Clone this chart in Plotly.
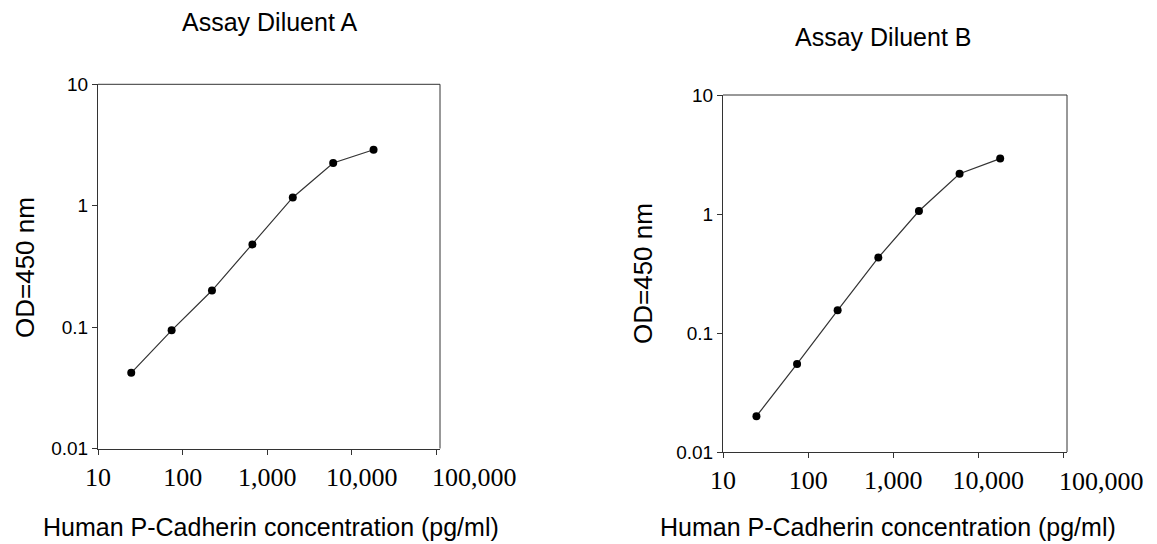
import math
import plotly.graph_objects as go

# Data
conc = [24.7, 74.1, 222, 667, 2000, 6000, 18000]
od_a = [0.042, 0.094, 0.20, 0.48, 1.17, 2.25, 2.89]
od_b = [0.020, 0.055, 0.155, 0.43, 1.06, 2.18, 2.92]
x_tickvals = [10, 100, 1000, 10000, 100000]
x_ticktext = ["10", "100", "1,000", "10,000", "100,000"]
y_tickvals = [0.01, 0.1, 1, 10]
y_ticktext = ["0.01", "0.1", "1", "10"]
titles = ["Assay Diluent A", "Assay Diluent B"]
x_title = "Human P-Cadherin concentration (pg/ml)"
y_title = "OD=450 nm"

# page body has an 8px margin; figure is placed at (8, 8)
OFF = 8
W, H = 1157 - OFF, 544 - OFF
fig = go.Figure()

line_style = dict(color="#333333", width=1.2)
marker_style = dict(color="black", size=8)
xfont = dict(family="Liberation Serif", size=26, color="black")

fig.add_trace(go.Scatter(x=conc, y=od_a, mode="lines+markers", line=line_style,
                         marker=marker_style, xaxis="x", yaxis="y", showlegend=False))
fig.add_trace(go.Scatter(x=conc, y=od_b, mode="lines+markers", line=line_style,
                         marker=marker_style, xaxis="x2", yaxis="y2", showlegend=False))

# In the reference the "10,000" label sits slightly right of its tick and the
# "100,000" label well right of its tick; the last one is drawn as an annotation.
shown_ticktext = list(x_ticktext)
shown_ticktext[3] = "&nbsp;" * 3 + x_ticktext[3]
shown_ticktext[4] = ""

def xax(domain, anchor):
    return dict(type="log", domain=domain, anchor=anchor, range=[1, 5.04],
                tickvals=x_tickvals, ticktext=shown_ticktext, ticks="outside", ticklen=5,
                tickcolor="#333333", showline=True, linecolor="#333333", linewidth=1,
                mirror=False, showgrid=False, zeroline=False, automargin=False,
                ticklabelstandoff=0, tickangle=0, tickfont=xfont)

def yax(domain, anchor):
    return dict(type="log", domain=domain, anchor=anchor, range=[-2, 1],
                tickvals=y_tickvals, ticktext=y_ticktext, ticks="outside", ticklen=5,
                tickcolor="#333333", showline=True, linecolor="#333333", linewidth=1,
                mirror=False, showgrid=False, zeroline=False, automargin=False,
                tickfont=dict(family="Liberation Sans", size=19, color="black"))

def px(x):
    return (x - OFF) / W

def py(y):
    return 1 - (y - OFF) / H

# plot boxes (reference pixel coordinates)
dA_x = [px(98), px(440)]
dA_y = [py(448.5), py(84.3)]
dB_x = [px(723), px(1067)]
dB_y = [py(452), py(95)]

fig.update_layout(
    template="none",
    width=W, height=H, paper_bgcolor="white", plot_bgcolor="white",
    margin=dict(l=0, r=0, t=0, b=0, pad=0), autosize=False,
    xaxis=xax(dA_x, "y"), yaxis=yax(dA_y, "x"),
    xaxis2=xax(dB_x, "y2"), yaxis2=yax(dB_y, "x2"),
)

# top and right borders
for dx, dy in [(dA_x, dA_y), (dB_x, dB_y)]:
    fig.add_shape(type="line", xref="paper", yref="paper", x0=dx[0], x1=dx[1], y0=dy[1], y1=dy[1],
                  line=dict(color="#333333", width=1))
    fig.add_shape(type="line", xref="paper", yref="paper", x0=dx[1], x1=dx[1], y0=dy[0], y1=dy[1],
                  line=dict(color="#333333", width=1))

# last x tick label, placed through the axes' own log scale
for xr, yr in [("x", "y"), ("x2", "y2")]:
    fig.add_annotation(text=x_ticktext[4], x=math.log10(x_tickvals[4]), y=math.log10(y_tickvals[0]),
                       xref=xr, yref=yr, showarrow=False, xanchor="center", yanchor="middle",
                       xshift=38, yshift=-29, font=xfont)

font_s = dict(family="Liberation Sans", color="black")
ann = [
    dict(text=titles[0], x=269, y=22, size=25, angle=0),
    dict(text=titles[1], x=883, y=37, size=25, angle=0),
    dict(text=x_title, x=271, y=527, size=25, angle=0),
    dict(text=x_title, x=888, y=527, size=25, angle=0),
    dict(text=y_title, x=25, y=268, size=26, angle=-90),
    dict(text=y_title, x=643, y=274, size=26, angle=-90),
]
for a in ann:
    fig.add_annotation(text=a["text"], x=px(a["x"]), y=py(a["y"]), xref="paper", yref="paper",
                       showarrow=False, textangle=a["angle"], xanchor="center", yanchor="middle",
                       font=dict(size=a["size"], **font_s))

fig.write_html("out.html")
